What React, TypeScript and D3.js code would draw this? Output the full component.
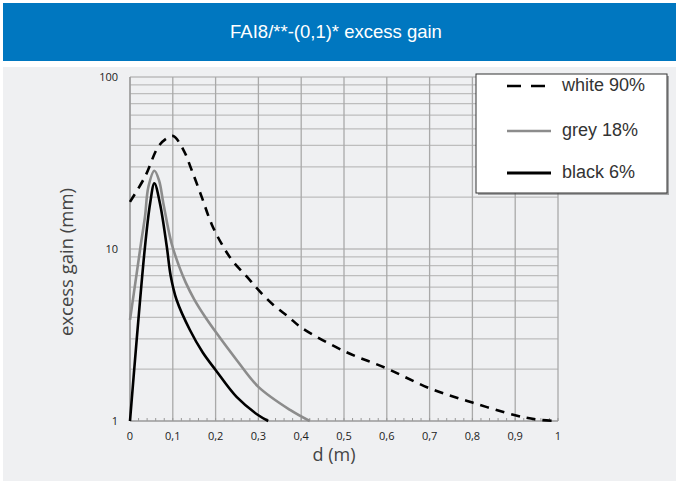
import React from "react";
import * as d3 from "d3";

const title = "FAI8/**-(0,1)* excess gain";
const xTicks = [0, 0.1, 0.2, 0.3, 0.4, 0.5, 0.6, 0.7, 0.8, 0.9, 1];
const xTickLabels = ["0", "0,1", "0,2", "0,3", "0,4", "0,5", "0,6", "0,7", "0,8", "0,9", "1"];
const yTicks = [1, 10, 100];

const whiteX = [0, 0.035, 0.066, 0.086, 0.101, 0.125, 0.144, 0.1675, 0.191, 0.218, 0.241, 0.273, 0.3, 0.335, 0.37, 0.4, 0.5, 0.6, 0.7, 0.8, 0.9, 0.95, 1.0];
const whiteY = [18.8, 26.3, 39.3, 44, 45.4, 37.6, 28.8, 20.1, 13.9, 10.3, 8.44, 6.9, 5.78, 4.73, 4.04, 3.5, 2.55, 2.02, 1.55, 1.28, 1.08, 1.02, 1.0];

const greyX = [0, 0.0156, 0.0257, 0.035, 0.043, 0.057, 0.068, 0.078, 0.097, 0.115, 0.13, 0.15, 0.175, 0.2, 0.25, 0.3, 0.374, 0.42];
const greyY = [3.87, 7.2, 10.8, 15.4, 23, 28.5, 25, 18.4, 10.8, 7.9, 6.4, 5.1, 4.05, 3.3, 2.25, 1.58, 1.16, 1.0];

const blackX = [0, 0.0156, 0.035, 0.047, 0.057, 0.07, 0.086, 0.095, 0.109, 0.14, 0.17, 0.2, 0.249, 0.3, 0.323];
const blackY = [1.0, 2.96, 10.3, 18.4, 24.1, 18.4, 10.3, 7.0, 5.05, 3.38, 2.5, 1.98, 1.38, 1.08, 1.0];

const series = [
  { name: "white 90%", xs: whiteX, ys: whiteY, color: "#000", dash: "9,7", width: 2.6 },
  { name: "grey 18%", xs: greyX, ys: greyY, color: "#8c8c8c", dash: "", width: 2.6 },
  { name: "black 6%", xs: blackX, ys: blackY, color: "#000", dash: "", width: 2.6 },
];

export default function App() {
  const W = 676, H = 481;
  const left = 130, right = 558, top = 77, bottom = 421;
  const x = d3.scaleLinear().domain([0, 1]).range([left, right]);
  const y = d3.scaleLog().domain([1, 100]).range([bottom, top]);

  const gridY: number[] = [];
  for (let dec = 1; dec < 100; dec *= 10) for (let k = 2; k <= 10; k++) gridY.push(k * dec);
  const minorX = d3.range(0, 1.0001, 0.02);

  const line = d3.line<[number, number]>()
    .x((d) => x(d[0]))
    .y((d) => Math.min(bottom, y(d[1])))
    .curve(d3.curveCatmullRom.alpha(0.5));

  const font = "'Liberation Sans', Arial, Helvetica, sans-serif";
  const font2 = "'Open Sans', 'Noto Sans', sans-serif";

  const legendX = 476, legendY = 74, legendW = 191, legendH = 119;
  const legendRows = [85, 130, 172];

  return (
    <svg width={W} height={H} style={{ position: "absolute", left: 0, top: 0 }}>
      <rect x={0} y={0} width={W} height={H} fill="#ffffff" />
      <rect x={3} y={3} width={W - 3} height={58} fill="#0077c0" />
      <text x={336} y={33} textAnchor="middle" dominantBaseline="middle" fill="#fff" fontFamily={font} fontSize={18.5}>
        {title}
      </text>
      <rect x={3} y={67} width={W - 3} height={H - 67} fill="#eff0f2" />

      {gridY.map((v) => (
        <line key={"gy" + v} x1={left} x2={right} y1={y(v)} y2={y(v)} stroke="#bdbdbd" strokeWidth={1.3} />
      ))}
      {xTicks.map((v) => (
        <line key={"gx" + v} x1={x(v)} x2={x(v)} y1={top} y2={bottom} stroke="#a9a9a9" strokeWidth={1.3} />
      ))}
      {minorX.map((v, i) => (
        <line key={"mx" + i} x1={x(v)} x2={x(v)} y1={bottom} y2={bottom - 3} stroke="#999" strokeWidth={1} />
      ))}
      <line x1={left} x2={right} y1={bottom} y2={bottom} stroke="#9a9a9a" strokeWidth={1.3} />
      <line x1={left} x2={left} y1={top} y2={bottom} stroke="#9a9a9a" strokeWidth={1.3} />

      {xTicks.map((v, i) => (
        <text key={"xl" + v} x={x(v)} y={440} textAnchor="middle" fontFamily={font2} fontSize={11} fill="#222">
          {xTickLabels[i]}
        </text>
      ))}
      {yTicks.map((v) => (
        <text key={"yl" + v} x={118} y={y(v) + 4} textAnchor="end" fontFamily={font2} fontSize={11} fill="#222">
          {v}
        </text>
      ))}
      <text x={334} y={461} textAnchor="middle" fontFamily={font2} fontSize={18} fill="#444">
        d (m)
      </text>
      <text
        transform={`translate(73, ${(top + bottom) / 2 + 13}) rotate(-90)`}
        textAnchor="middle"
        fontFamily={font2}
        fontSize={18.5}
        fill="#444"
      >
        excess gain (mm)
      </text>

      {series.map((s) => (
        <path
          key={s.name}
          d={line(s.xs.map((v, i) => [v, s.ys[i]] as [number, number])) || ""}
          fill="none"
          stroke={s.color}
          strokeWidth={s.width}
          strokeDasharray={s.dash || undefined}
        />
      ))}

      <rect x={legendX + 2} y={legendY + 2} width={legendW} height={legendH} fill="#555" opacity={0.5} />
      <rect x={legendX} y={legendY} width={legendW} height={legendH} fill="#fff" stroke="#333" strokeWidth={1} />
      {series.map((s, i) => (
        <g key={"lg" + s.name}>
          <line
            x1={507}
            x2={551}
            y1={legendRows[i] + 1}
            y2={legendRows[i] + 1}
            stroke={s.color}
            strokeWidth={i === 2 ? 3 : 2.6}
            strokeDasharray={s.dash ? "14,10" : undefined}
          />
          <text x={562} y={legendRows[i] + 6} fontFamily={font} fontSize={18} fill="#333">
            {s.name}
          </text>
        </g>
      ))}
    </svg>
  );
}
